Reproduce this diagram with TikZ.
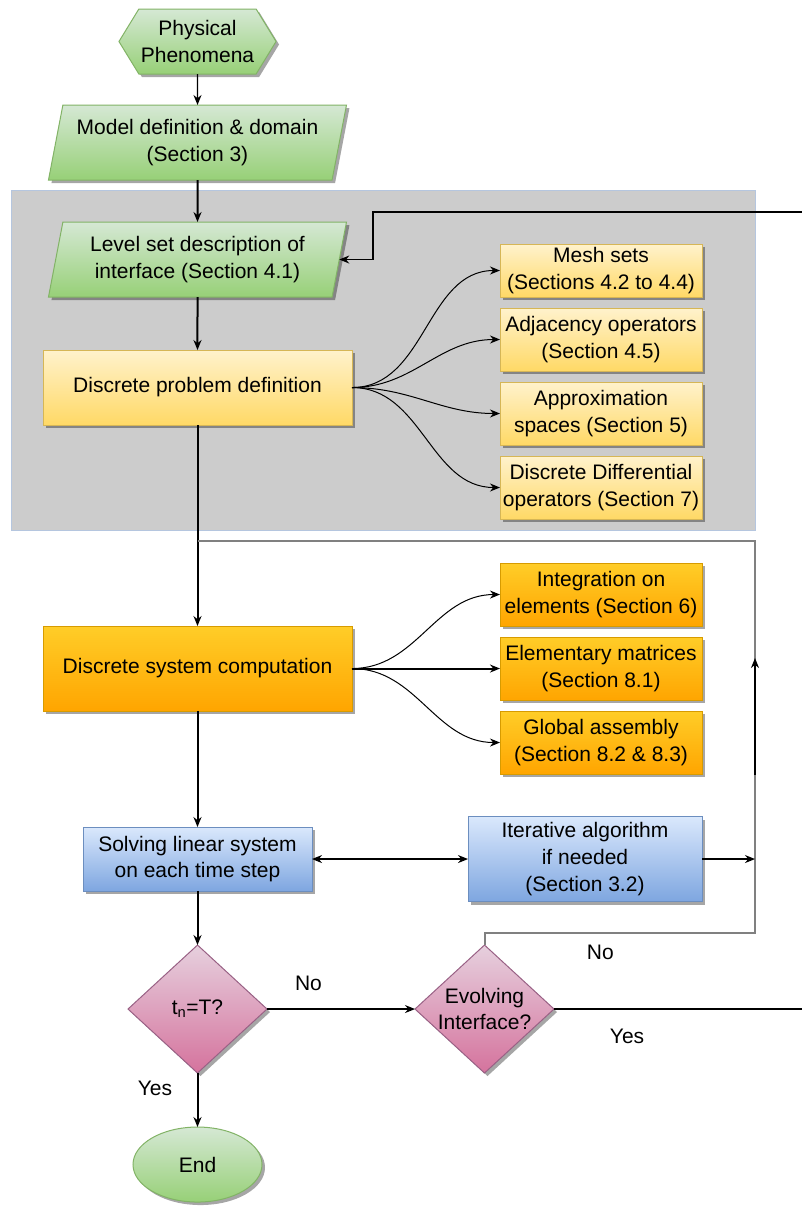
\documentclass[tikz,border=0pt]{standalone}
\usepackage{fontspec}
\setmainfont{Liberation Sans}
\usetikzlibrary{positioning, arrows.meta, shapes.geometric, shapes.symbols, shadows}

\definecolor{greenTop}{HTML}{D5E8D4}
\definecolor{greenBot}{HTML}{97D077}
\definecolor{greenLine}{HTML}{82B366}
\definecolor{yelTop}{HTML}{FFF2CC}
\definecolor{yelBot}{HTML}{FFD966}
\definecolor{yelLine}{HTML}{D6B656}
\definecolor{oraTop}{HTML}{FFCD28}
\definecolor{oraBot}{HTML}{FFA500}
\definecolor{oraLine}{HTML}{D79B00}
\definecolor{bluTop}{HTML}{DAE8FC}
\definecolor{bluBot}{HTML}{7EA6E0}
\definecolor{bluLine}{HTML}{6C8EBF}
\definecolor{pinkTop}{HTML}{E6D0DE}
\definecolor{pinkBot}{HTML}{D5739D}
\definecolor{pinkLine}{HTML}{996185}

\begin{document}
\begin{tikzpicture}[
      x=1pt, y=-1pt,
      node distance=11pt,
      base/.style={align=center, font=\fontsize{21}{26.7}\selectfont, line width=1pt, inner sep=2pt, outer sep=0pt,
        drop shadow={shadow xshift=3pt, shadow yshift=-3pt, opacity=0.35, fill=black}},
      greenfill/.style={draw=greenLine, top color=greenTop, bottom color=greenBot},
      hexa/.style={base, greenfill, signal, signal to=west and east, signal pointer angle=117,
        minimum width=152pt, minimum height=65pt},
      greenpara/.style={base, greenfill, trapezium, trapezium left angle=74, trapezium right angle=106,
        trapezium stretches body, minimum width=298pt, minimum height=75pt},
      ybox/.style={base, draw=yelLine, top color=yelTop, bottom color=yelBot, minimum width=202pt, minimum height=63pt},
      obox/.style={base, draw=oraLine, top color=oraTop, bottom color=oraBot, minimum width=202pt, minimum height=63pt},
      bbox/.style={base, draw=bluLine, top color=bluTop, bottom color=bluBot},
      decision/.style={base, draw=pinkLine, top color=pinkTop, bottom color=pinkBot, diamond, aspect=1.086,
        inner sep=-1pt, minimum width=139pt, minimum height=128pt},
      stopnode/.style={base, greenfill, ellipse, minimum width=129pt, minimum height=75pt},
      panel/.style={draw=bluLine!50, fill=black!20, line width=1pt},
      lbl/.style={font=\fontsize{21}{26.7}\selectfont},
      arr/.style={-{Stealth[length=10pt, width=8pt]}, line width=1.3pt},
      arrthin/.style={arr, line width=1pt},
      arrthick/.style={arr, line width=2pt},
      loopline/.style={draw=black!50, line width=2pt}
    ]
    \useasboundingbox (0,0) rectangle (802,1211);
    \node[panel, minimum width=744pt, minimum height=340pt] (panel) at (383,360) {};

    % main column
    \node[hexa] (phen) at (197.5,41.5) {Physical\\Phenomena};
    \node[greenpara, below=31pt of phen] (model) {Model definition \& domain\\(Section 3)};
    \node[greenpara, below=42pt of model] (level) {Level set description of\\interface (Section 4.1)};
    \node[ybox, minimum width=309pt, minimum height=75pt, below=53pt of level] (dpd) {Discrete problem definition};
    \node[obox, minimum width=309pt, minimum height=85pt, below=201pt of dpd] (sys) {Discrete system computation};
    \node[bbox, minimum width=229pt, minimum height=64pt, below=116pt of sys] (solve) {Solving linear system\\on each time step};
    \node[decision, below=54pt of solve] (tn) {t\textsubscript{n}=T?};
    \node[stopnode, below=54pt of tn] (stop) {End};

    % side nodes
    \node[ybox, minimum height=53pt] (mesh) at (601,270.5) {Mesh sets\\(Sections 4.2 to 4.4)};
    \node[ybox, below=of mesh] (adj) {Adjacency operators\\(Section 4.5)};
    \node[ybox, below=of adj] (appr) {Approximation\\spaces (Section 5)};
    \node[ybox, below=of appr] (ddo) {Discrete Differential\\operators (Section 7)};

    \node[obox, right=148pt of sys] (elem) {Elementary matrices\\(Section 8.1)};
    \node[obox, above=of elem] (integ) {Integration on\\elements (Section 6)};
    \node[obox, below=of elem] (glob) {Global assembly\\(Section 8.2 \& 8.3)};

    \node[bbox, minimum width=234pt, minimum height=85pt, right=156pt of solve] (iter) {Iterative algorithm\\if needed\\(Section 3.2)};
    \node[decision, right=148pt of tn] (evo) {Evolving\\Interface?};

    % loop and feedback corners
    \coordinate (loopLow) at (755,933);
    \coordinate (loopMid) at (755,775);
    \coordinate (loopTip) at (755,658);
    \coordinate (loopTop) at (755,541);
    \coordinate (join) at (197.5,541);
    \coordinate (fbTop) at (806,212);
    \coordinate (fbBot) at (fbTop |- evo.east);
    \coordinate (fbKnee) at (373,212);

    \draw[arr] (phen) -- (model);
    \draw[arrthick] (model) -- (level);
    \draw[arrthick] (level) -- (dpd);
    \foreach \t in {mesh, adj, appr, ddo}
      \draw[arrthin] (dpd.east) to[out=0, in=180] (\t.west);
    \draw[arrthick] (dpd) -- (sys);
    \draw[arrthin] (sys.east) to[out=0, in=180] (integ.west);
    \draw[arrthick] (sys) -- (elem);
    \draw[arrthin] (sys.east) to[out=0, in=180] (glob.west);
    \draw[arrthick] (sys) -- (solve);
    \draw[arr, {Stealth[length=10pt, width=8pt]}-{Stealth[length=10pt, width=8pt]}] (solve) -- (iter);
    \draw[arrthick] (solve) -- (tn);
    \draw[arr] (tn) -- node[lbl, pos=0.28, yshift=26pt] {No} (evo);
    \draw[arrthick] (tn) -- node[lbl, pos=0.28, xshift=-42.5pt] {Yes} (stop);

    \draw[loopline] (evo.north) |- node[lbl, text=black, pos=0.714, yshift=-19pt] {No} (loopLow) -- (loopTop) -- (join);
    \draw[arrthick] (loopMid) -- (loopTip);
    \draw[arrthick] (iter) -- (iter.east -| loopLow);

    \draw[arr] (evo.east) -- node[lbl, pos=0.29, yshift=-27pt] {Yes} (fbBot) -- (fbTop) -- (fbKnee) |- (level.east);
  \end{tikzpicture}
\end{document}
